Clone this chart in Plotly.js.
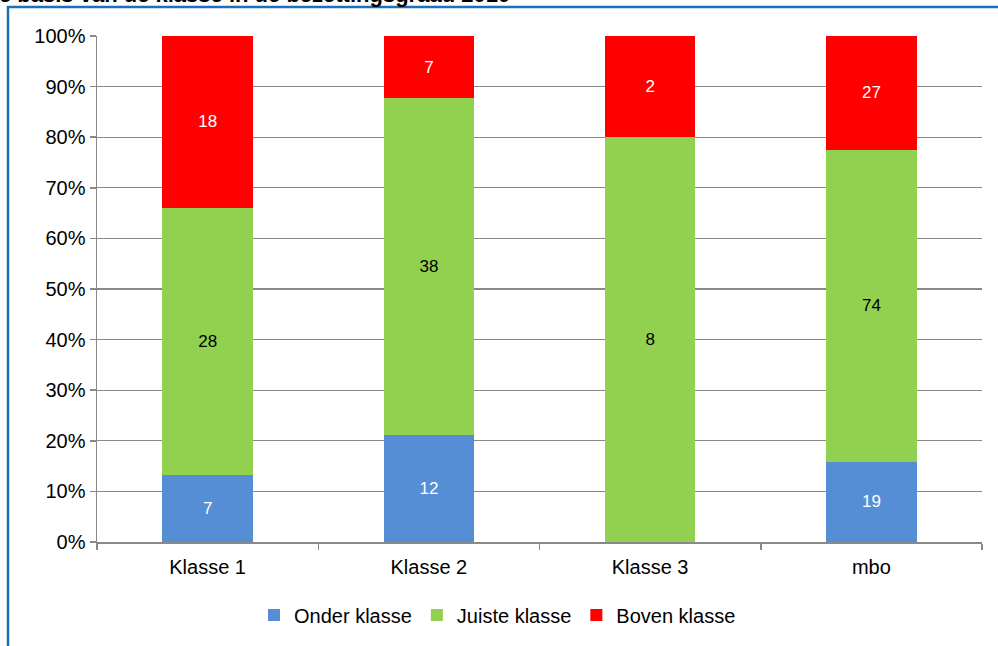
<!DOCTYPE html>
<html>
<head>
<meta charset="utf-8">
<script src="https://cdn.plot.ly/plotly-3.0.1.min.js"></script>
<style>
html,body{margin:0;padding:0;background:#fff;}
#chart{width:998px;height:646px;}
</style>
</head>
<body>
<div id="chart"></div>
<script>
const categories = ["Klasse 1", "Klasse 2", "Klasse 3", "mbo"];
const onderKlasse = [7, 12, 0, 19];
const juisteKlasse = [28, 38, 8, 74];
const bovenKlasse = [18, 7, 2, 27];
const seriesNames = ["Onder klasse", "Juiste klasse", "Boven klasse"];
const yTickVals = [0, 10, 20, 30, 40, 50, 60, 70, 80, 90, 100];
const yTickText = ["0%", "10%", "20%", "30%", "40%", "50%", "60%", "70%", "80%", "90%", "100%"];
const titleText = "e basis van de klasse in de bezettingsgraad 2010";

const W = 998, H = 646;
const M = {l: 97, r: 16, t: 36, b: 104};
const pw = W - M.l - M.r, ph = H - M.t - M.b;
const px = x => (x - M.l) / pw;
const py = y => (H - M.b - y) / ph;

const FONT = "Liberation Sans, Arial, sans-serif";
const lbl = v => v ? String(v) : "";

function mk(name, vals, color, tcolor) {
  return {
    type: "bar", name: name, x: categories, y: vals,
    marker: {color: color, line: {width: 0}},
    text: vals.map(lbl), textposition: "inside", insidetextanchor: "middle",
    textangle: 0, constraintext: "none",
    insidetextfont: {family: FONT, size: 17, color: tcolor},
    hoverinfo: "none"
  };
}

const data = [
  mk(seriesNames[0], onderKlasse, "#558ED5", "#ffffff"),
  mk(seriesNames[1], juisteKlasse, "#92D050", "#000000"),
  mk(seriesNames[2], bovenKlasse, "#FF0000", "#ffffff")
];

const layout = {
  width: W, height: H,
  margin: M,
  paper_bgcolor: "#ffffff", plot_bgcolor: "#ffffff",
  barmode: "stack", barnorm: "percent", bargap: 0.59,
  font: {family: FONT, size: 20, color: "#000"},
  showlegend: true,
  legend: {orientation: "h", x: px(254), xanchor: "left", y: py(615), yanchor: "middle",
           font: {family: FONT, size: 20, color: "#000"}, traceorder: "normal",
           bgcolor: "rgba(0,0,0,0)"},
  xaxis: {type: "category", tickson: "boundaries", ticks: "outside", ticklen: 6,
          tickcolor: "#898989", tickwidth: 1.5, showline: true, linecolor: "#898989", linewidth: 1.5,
          showgrid: false, ticklabelstandoff: 6,
          tickfont: {family: FONT, size: 20, color: "#000"}, fixedrange: true},
  yaxis: {range: [0, 100], tickvals: yTickVals, ticktext: yTickText, ticks: "outside", ticklen: 6,
          tickcolor: "#898989", tickwidth: 1.5, showline: true, linecolor: "#898989", linewidth: 1.5,
          showgrid: true, gridcolor: "#898989", gridwidth: 1.2, zeroline: false,
          tickfont: {family: FONT, size: 20, color: "#000"}, fixedrange: true},
  annotations: [{
    text: "<b>" + titleText + "</b>", xref: "paper", yref: "paper",
    x: px(-3), xanchor: "left", y: py(-6), yanchor: "middle", showarrow: false,
    font: {family: FONT, size: 22, color: "#000"}
  }],
  shapes: [
    {type: "line", xref: "paper", yref: "paper", x0: px(8), x1: px(8), y0: py(6), y1: py(660),
     line: {color: "#1F6FB8", width: 2.5}},
    {type: "line", xref: "paper", yref: "paper", x0: px(7), x1: px(1010), y0: py(7), y1: py(7),
     line: {color: "#1F6FB8", width: 2.5}}
  ]
};

Plotly.newPlot("chart", data, layout, {displayModeBar: false, staticPlot: true});
</script>
</body>
</html>
